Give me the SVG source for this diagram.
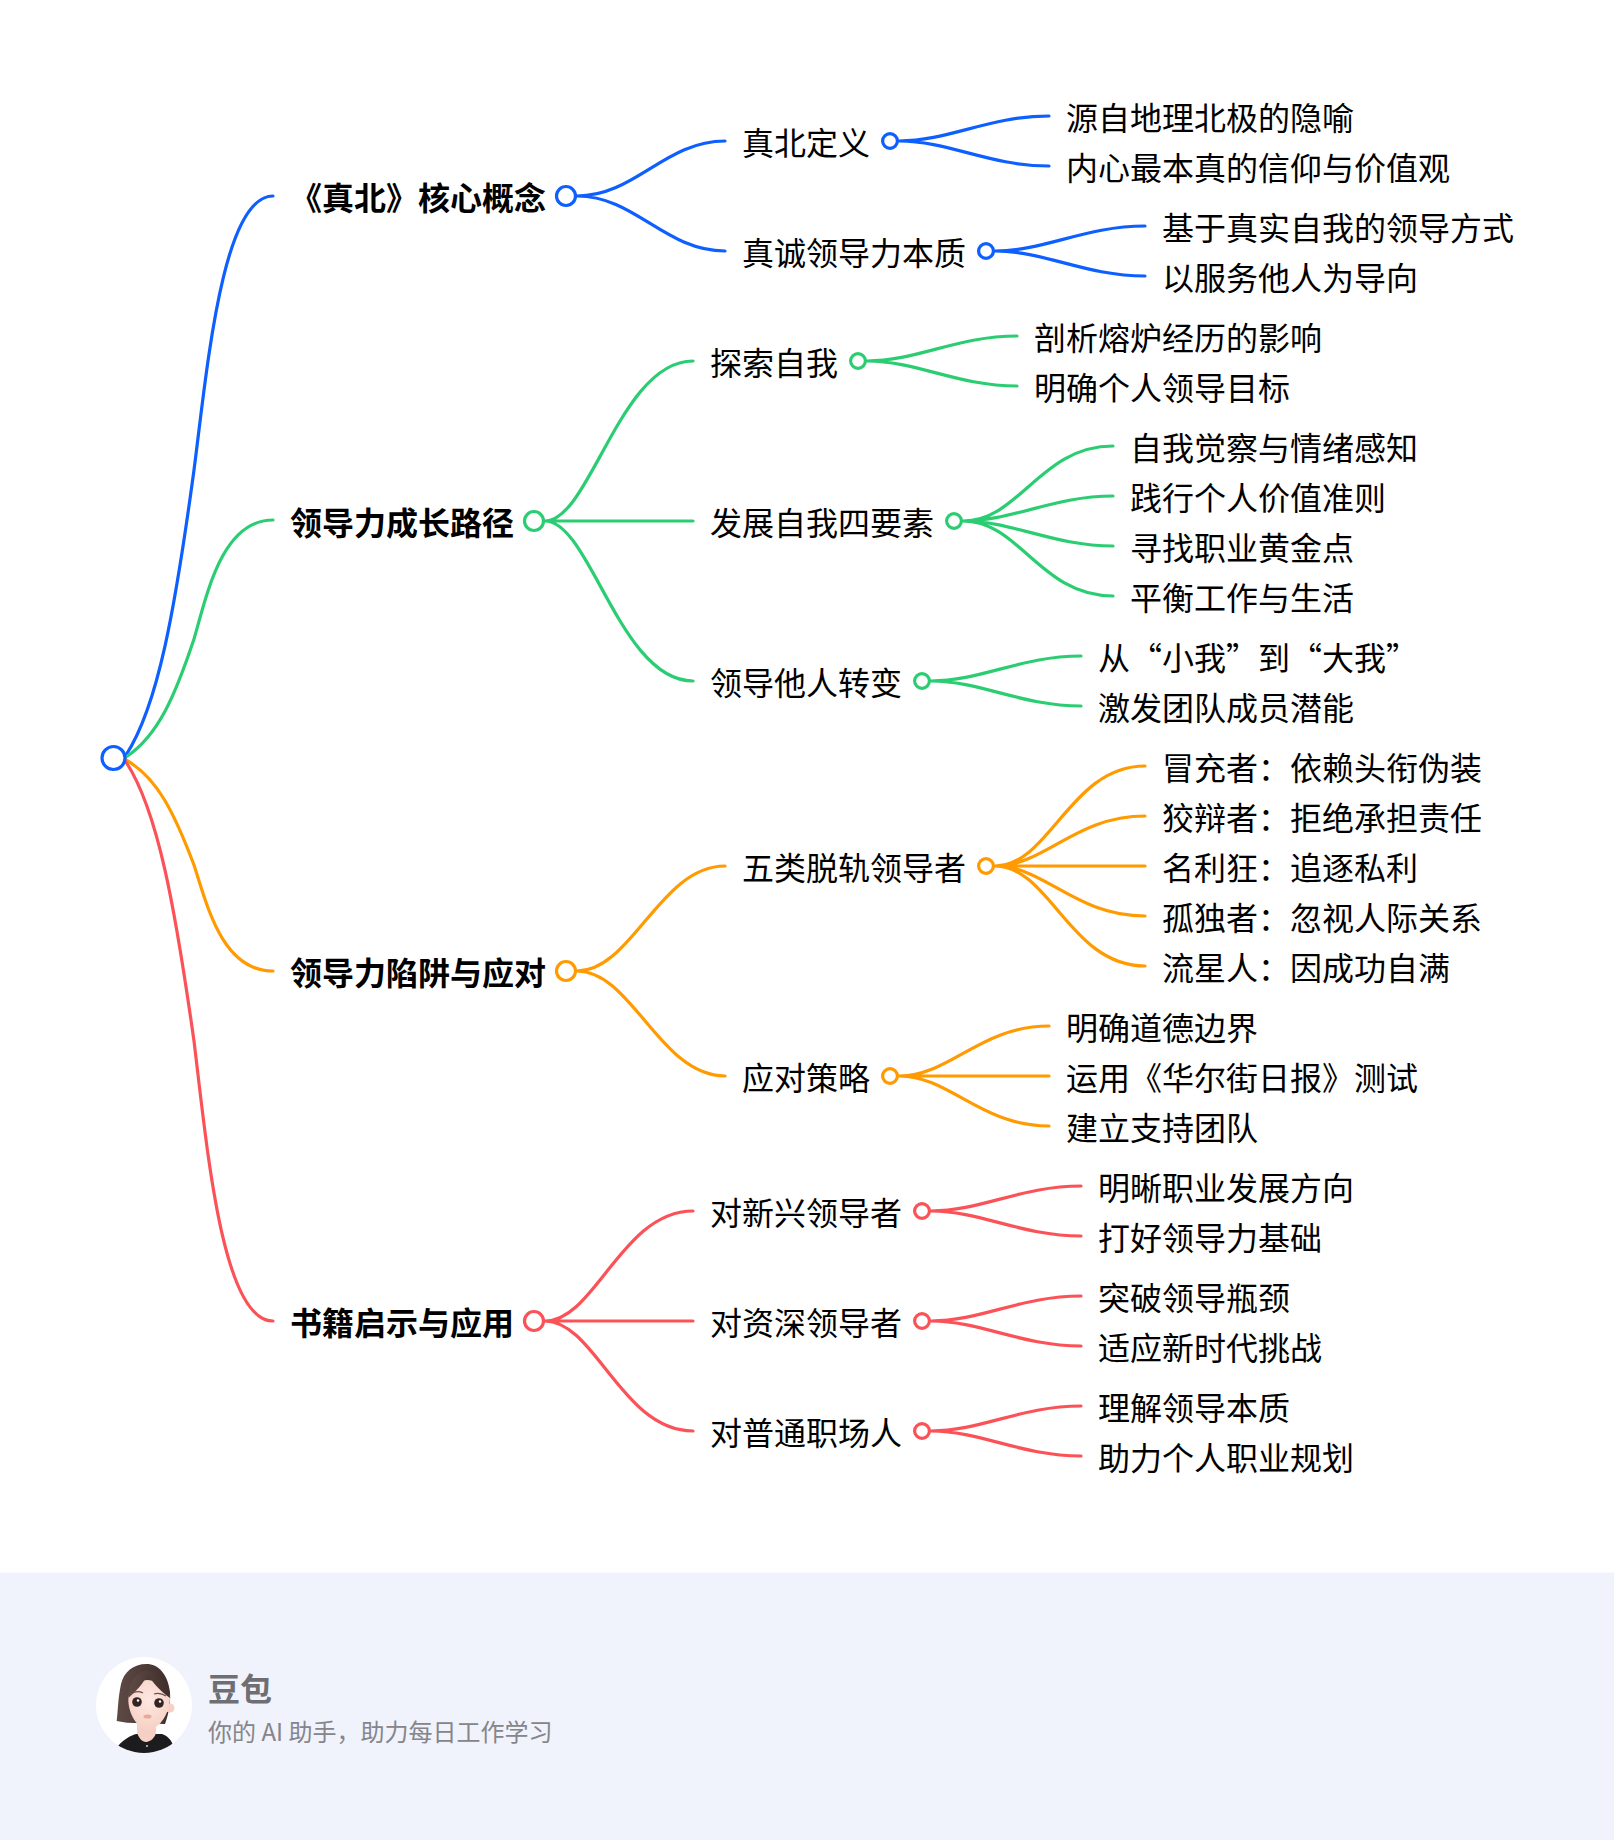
<svg xmlns="http://www.w3.org/2000/svg" width="1614" height="1840" viewBox="0 0 1614 1840">
<defs>
<style>
text{font-family:"Noto Sans CJK SC","Noto Sans",sans-serif;font-size:32px;fill:#000}
.b{font-weight:700}
.c{fill:none;stroke-width:3.200;stroke-linecap:round}
.n{fill:#fff;stroke-width:3.200}
.bl{stroke:#0d5fff}.gr{stroke:#2bcd73}.or{stroke:#ff9a00}.re{stroke:#fb5258}
</style>
<clipPath id="av"><circle cx="144" cy="1705" r="48"/></clipPath>
<radialGradient id="skin" cx="50%" cy="40%" r="65%"><stop offset="0" stop-color="#fde8e1"/><stop offset="1" stop-color="#f6cfc3"/></radialGradient>
<linearGradient id="hair" x1="0" y1="0" x2="1" y2="0"><stop offset="0" stop-color="#5e4a45"/><stop offset="1" stop-color="#3f2e2b"/></linearGradient>
</defs>
<rect width="1614" height="1840" fill="#fff"/>
<rect id="footer-bg" y="1572.500" width="1614" height="267.500" fill="#f0f3fb"/>
<g id="connectors">
<path class="c bl" d="M126 755C158 706 175 610 194 470C207 370 222 196 273 196"/>
<path class="c gr" d="M126 757C158 736 175 696 194 639C207 594 222 520 273 520"/>
<path class="c or" d="M126 760C158 778 175 815 194 865C207 905 222 971 273 971"/>
<path class="c re" d="M126 762C158 811 175 907 194 1041C207 1147 222 1321 273 1321"/>
<path class="c bl" d="M577 196C635 196 665 141 725 141M577 196C635 196 665 251 725 251"/>
<path class="c bl" d="M899 141C949 141 989 116 1049 116M899 141C949 141 989 166 1049 166"/>
<path class="c bl" d="M995 251C1045 251 1085 226 1145 226M995 251C1045 251 1085 276 1145 276"/>
<path class="c gr" d="M545 521C590 521 620 361 693 361M545 521H693M545 521C590 521 620 681 693 681"/>
<path class="c gr" d="M867 361C917 361 957 336 1017 336M867 361C917 361 957 386 1017 386"/>
<path class="c gr" d="M963 521C1020 521 1040 446 1113 446M963 521C1013 521 1053 496 1113 496M963 521C1013 521 1053 546 1113 546M963 521C1020 521 1040 596 1113 596"/>
<path class="c gr" d="M931 681C981 681 1021 656 1081 656M931 681C981 681 1021 706 1081 706"/>
<path class="c or" d="M577 971C632 971 660 866 725 866M577 971C632 971 660 1076 725 1076"/>
<path class="c or" d="M995 866C1050 866 1070 766 1145 766M995 866C1045 866 1075 816 1145 816M995 866H1145M995 866C1045 866 1075 916 1145 916M995 866C1050 866 1070 966 1145 966"/>
<path class="c or" d="M899 1076C950 1076 980 1026 1049 1026M899 1076H1049M899 1076C950 1076 980 1126 1049 1126"/>
<path class="c re" d="M545 1321C595 1321 622 1211 693 1211M545 1321H693M545 1321C595 1321 622 1431 693 1431"/>
<path class="c re" d="M931 1211C981 1211 1021 1186 1081 1186M931 1211C981 1211 1021 1236 1081 1236"/>
<path class="c re" d="M931 1321C981 1321 1021 1296 1081 1296M931 1321C981 1321 1021 1346 1081 1346"/>
<path class="c re" d="M931 1431C981 1431 1021 1406 1081 1406M931 1431C981 1431 1021 1456 1081 1456"/>
</g>
<g id="root"><circle class="n bl" cx="113.500" cy="758" r="11.500"/></g>
<g id="n1"><text class="b" x="290" y="210">《真北》核心概念</text><circle class="n bl" cx="566" cy="196" r="9.500"/></g>
<g id="n2"><text class="b" x="290" y="535">领导力成长路径</text><circle class="n gr" cx="534" cy="521" r="9.500"/></g>
<g id="n3"><text class="b" x="290" y="985">领导力陷阱与应对</text><circle class="n or" cx="566" cy="971" r="9.500"/></g>
<g id="n4"><text class="b" x="290" y="1335">书籍启示与应用</text><circle class="n re" cx="534" cy="1321" r="9.500"/></g>
<g id="n1-1"><text x="742" y="155">真北定义</text><circle class="n bl" cx="890" cy="141" r="7.400"/></g>
<g id="n1-2"><text x="742" y="265">真诚领导力本质</text><circle class="n bl" cx="986" cy="251" r="7.400"/></g>
<g id="n2-1"><text x="710" y="375">探索自我</text><circle class="n gr" cx="858" cy="361" r="7.400"/></g>
<g id="n2-2"><text x="710" y="535">发展自我四要素</text><circle class="n gr" cx="954" cy="521" r="7.400"/></g>
<g id="n2-3"><text x="710" y="695">领导他人转变</text><circle class="n gr" cx="922" cy="681" r="7.400"/></g>
<g id="n3-1"><text x="742" y="880">五类脱轨领导者</text><circle class="n or" cx="986" cy="866" r="7.400"/></g>
<g id="n3-2"><text x="742" y="1090">应对策略</text><circle class="n or" cx="890" cy="1076" r="7.400"/></g>
<g id="n4-1"><text x="710" y="1225">对新兴领导者</text><circle class="n re" cx="922" cy="1211" r="7.400"/></g>
<g id="n4-2"><text x="710" y="1335">对资深领导者</text><circle class="n re" cx="922" cy="1321" r="7.400"/></g>
<g id="n4-3"><text x="710" y="1445">对普通职场人</text><circle class="n re" cx="922" cy="1431" r="7.400"/></g>
<g id="leaves">
<text id="l1" x="1066" y="130">源自地理北极的隐喻</text>
<text id="l2" x="1066" y="180">内心最本真的信仰与价值观</text>
<text id="l3" x="1162" y="240">基于真实自我的领导方式</text>
<text id="l4" x="1162" y="290">以服务他人为导向</text>
<text id="l5" x="1034" y="350">剖析熔炉经历的影响</text>
<text id="l6" x="1034" y="400">明确个人领导目标</text>
<text id="l7" x="1130" y="460">自我觉察与情绪感知</text>
<text id="l8" x="1130" y="510">践行个人价值准则</text>
<text id="l9" x="1130" y="560">寻找职业黄金点</text>
<text id="l10" x="1130" y="610">平衡工作与生活</text>
<text id="l11" x="1098" y="670">从“小我”到“大我”</text>
<text id="l12" x="1098" y="720">激发团队成员潜能</text>
<text id="l13" x="1162" y="780">冒充者：依赖头衔伪装</text>
<text id="l14" x="1162" y="830">狡辩者：拒绝承担责任</text>
<text id="l15" x="1162" y="880">名利狂：追逐私利</text>
<text id="l16" x="1162" y="930">孤独者：忽视人际关系</text>
<text id="l17" x="1162" y="980">流星人：因成功自满</text>
<text id="l18" x="1066" y="1040">明确道德边界</text>
<text id="l19" x="1066" y="1090">运用《华尔街日报》测试</text>
<text id="l20" x="1066" y="1140">建立支持团队</text>
<text id="l21" x="1098" y="1200">明晰职业发展方向</text>
<text id="l22" x="1098" y="1250">打好领导力基础</text>
<text id="l23" x="1098" y="1310">突破领导瓶颈</text>
<text id="l24" x="1098" y="1360">适应新时代挑战</text>
<text id="l25" x="1098" y="1420">理解领导本质</text>
<text id="l26" x="1098" y="1470">助力个人职业规划</text>
</g>
<g id="avatar">
<circle cx="144" cy="1705" r="48" fill="#fff"/>
<g clip-path="url(#av)">
<path d="M118 1746C124 1739 130 1736 136 1734L162 1734C167 1736 170 1738 173 1745L160 1760H125Z" fill="#1c1b1d"/>
<path d="M137 1720H156V1733C154 1740 148 1742 146 1742C142 1742 139 1738 137 1733Z" fill="#f6d0c5"/>
<path d="M146.700 1664C133 1664 124 1672 121 1684C118 1698 118 1710 116.700 1721L127 1722.700L165 1724C168 1716 171 1704 170 1692C168 1674 158 1664 146.700 1664Z" fill="url(#hair)"/>
<circle cx="170" cy="1708" r="4.500" fill="#f6d0c2"/>
<path d="M128.500 1697C130 1688 140 1680 148 1680C160 1681 169 1690 170 1698C170 1712 160 1729 148 1730C137 1729 127 1712 128.500 1697Z" fill="url(#skin)"/>
<path d="M128.500 1698C136 1691 143 1684 148 1674C153 1684 162 1692 170 1698C170 1686 160 1671 147 1671C136 1671 128 1684 128.500 1698Z" fill="url(#hair)"/>
<path d="M131 1694Q137 1690 143 1693M154 1694Q160 1692 166 1696" fill="none" stroke="#6a524b" stroke-width="1.300"/>
<circle cx="137" cy="1702" r="4.800" fill="#332423"/><circle cx="159" cy="1703" r="4.800" fill="#332423"/>
<circle cx="138" cy="1700.500" r="1.200" fill="#fff"/><circle cx="160" cy="1701.500" r="1.200" fill="#fff"/>
<ellipse cx="147.500" cy="1716.500" rx="4" ry="2" fill="#eba897"/>
<circle cx="147" cy="1746" r="1" fill="#ccc"/>
</g>
</g>
<g id="footer-text">
<text x="208" y="1701" style="font-size:32px;font-weight:700;fill:#6e6e73">豆包</text>
<text x="208" y="1741" style="font-size:24px;fill:#85858a">你的 AI 助手，助力每日工作学习</text>
</g>
</svg>
